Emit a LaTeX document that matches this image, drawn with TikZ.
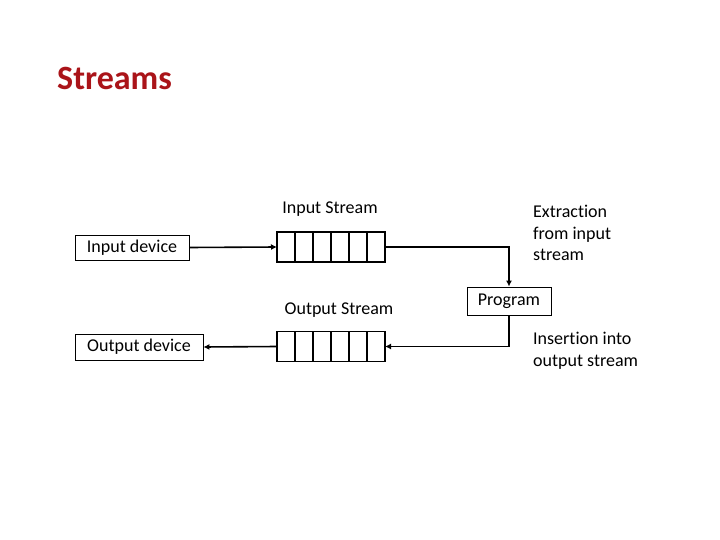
\documentclass[tikz,border=0pt]{standalone}
\usepackage{fontspec}
\setmainfont[Ligatures=NoCommon]{Carlito}
\usetikzlibrary{arrows.meta}
\definecolor{titlered}{RGB}{170,20,25}
\begin{document}
\begin{tikzpicture}[x=1pt,y=-1pt,
  devbox/.style={draw,line width=0.8pt,inner sep=0pt,font=\fontsize{18}{21.5}\selectfont},
  lbl/.style={font=\fontsize{18}{21.5}\selectfont,inner sep=0pt},
  conn/.style={line width=1.6pt,-{Latex[length=6pt,width=6pt]}},
  qcell/.style={draw,line width=1.6pt,minimum width=18pt,minimum height=30pt,inner sep=0pt,outer sep=0pt}]
\useasboundingbox (0,0) rectangle (720,540);
\node[anchor=base west,text=titlered,font=\fontsize{34}{38}\bfseries\selectfont,inner sep=0pt] (title) at (57,90) {Streams};
% devices
\node[devbox,minimum width=114pt,minimum height=25pt] (indev) at (132,247.5) {Input device};
\node[devbox,minimum width=128pt,minimum height=26pt] (outdev) at (139,347) {Output device};
\node[devbox,minimum width=84pt,minimum height=28pt] (prog) at (509,301) {Program};
% queues
\foreach \i in {0,...,5}{
  \node[qcell] (iq\i) at (286+18*\i,247) {};
  \node[qcell] (oq\i) at (286+18*\i,346.5) {};
}
\node[lbl] (instr) at (330,209) {Input Stream};
\node[lbl] (outstr) at (339,310) {Output Stream};
\node[lbl,anchor=north west,align=left] (extr) at (533,205) {Extraction\\from input\\stream};
\node[lbl,anchor=north west,align=left] (ins) at (533,332) {Insertion into\\output stream};
\coordinate (c1) at (prog.north |- iq5.east);
\coordinate (c2) at (prog.south |- oq5.east);
\draw[conn] (indev.east) -- (iq0.west);
\draw[conn] (iq5.east) -- (c1) -- (prog.north);
\draw[conn] (prog.south) -- (c2) -- (oq5.east);
\draw[conn] (oq0.west) -- (outdev.east);
\end{tikzpicture}
\end{document}
